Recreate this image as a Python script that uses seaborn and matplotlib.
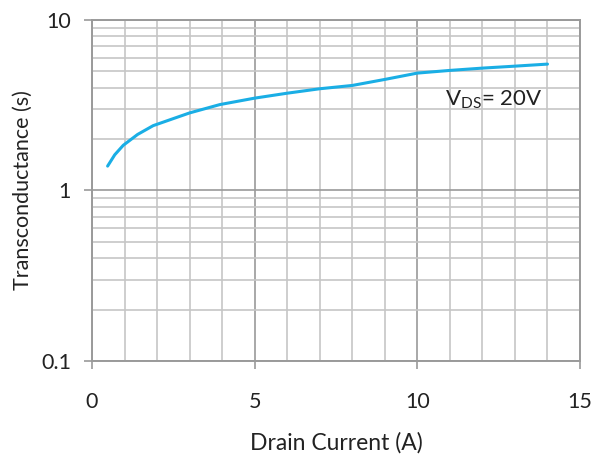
import matplotlib

matplotlib.use("Agg")
import matplotlib.pyplot as plt
import matplotlib.ticker as mticker
import pandas as pd
import seaborn as sns

# Transconductance vs drain current
drain_current = [0.48, 0.7, 0.96, 1.4, 1.88, 2.5, 3.0, 3.93, 5.0, 6.0, 7.0, 8.0, 9.0, 10.0, 11.0, 12.0, 13.0, 14.0]
transconductance = [1.39, 1.62, 1.84, 2.13, 2.40, 2.64, 2.85, 3.19, 3.48, 3.72, 3.95, 4.13, 4.48, 4.88, 5.06, 5.22, 5.36, 5.51]

x_ticks = [0, 5, 10, 15]
y_ticks = [0.1, 1, 10]
y_tick_labels = ["0.1", "1", "10"]
annotation = r"V$_{\mathregular{DS}}$= 20V"

sns.set_theme(style="white")
plt.rcParams["font.family"] = ["Lato", "DejaVu Sans"]
plt.rcParams["mathtext.fontset"] = "custom"
plt.rcParams["mathtext.rm"] = "Lato"

frame = pd.DataFrame({"current": drain_current, "gfs": transconductance})

fig = plt.figure(figsize=(6.04, 4.59), dpi=100)
ax = fig.add_axes([0.1523, 0.2135, 0.808, 0.743])

sns.lineplot(data=frame, x="current", y="gfs", ax=ax, color="#1aaee5", linewidth=2.2)

ax.set_yscale("log")
ax.set_xlim(0, 15)
ax.set_ylim(0.1, 10)

ax.xaxis.set_major_locator(mticker.FixedLocator(x_ticks))
ax.xaxis.set_minor_locator(mticker.MultipleLocator(1))
ax.yaxis.set_major_locator(mticker.FixedLocator(y_ticks))
ax.yaxis.set_major_formatter(mticker.FixedFormatter(y_tick_labels))
ax.yaxis.set_minor_locator(mticker.LogLocator(base=10, subs=range(2, 10)))
ax.yaxis.set_minor_formatter(mticker.NullFormatter())

ax.grid(which="minor", color="#c6c6c6", linewidth=1.2)
ax.grid(which="major", color="#9a9a9a", linewidth=1.2)
ax.set_axisbelow(True)

for spine in ax.spines.values():
    spine.set_color("#9a9a9a")
    spine.set_linewidth(1.4)

ax.tick_params(axis="both", which="major", direction="out", length=6, width=1.2,
               color="#9a9a9a", labelsize=15.5, labelcolor="#222222")
ax.tick_params(axis="x", which="major", pad=16)
ax.tick_params(axis="y", which="major", pad=9)
ax.tick_params(which="minor", length=0)
ax.tick_params(axis="x", which="major", bottom=True)
ax.tick_params(axis="y", which="major", left=True)

ax.set_xlabel("Drain Current (A)", fontsize=16.5, color="#222222", labelpad=15)
ax.set_ylabel("Transconductance (s)", fontsize=15.5, color="#222222", labelpad=6)

ax.text(10.85, 3.4, annotation, fontsize=16, color="#222222", ha="left", va="center")

fig.savefig("out.png", dpi=100)
plt.close(fig)
